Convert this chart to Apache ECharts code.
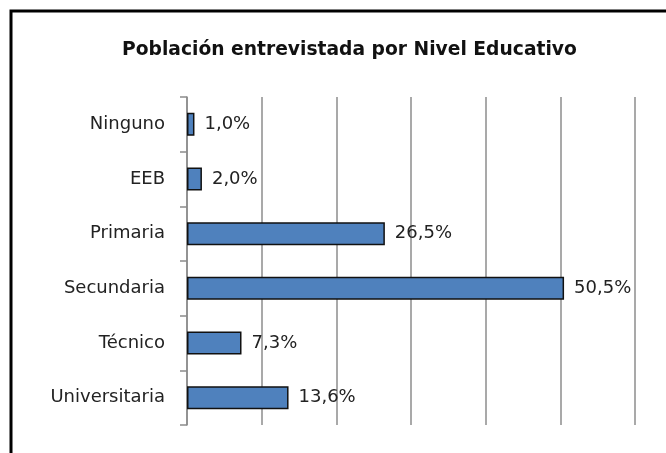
<!DOCTYPE html>
<html>
<head>
<meta charset="utf-8">
<script src="https://cdn.jsdelivr.net/npm/echarts@6/dist/echarts.min.js"></script>
<style>
  html, body { margin: 0; padding: 0; background: #fff; }
  #chart { width: 666px; height: 453px; }
</style>
</head>
<body>
<div id="chart"></div>
<script>
const titleText = 'Población entrevistada por Nivel Educativo';
const categories = ['Ninguno', 'EEB', 'Primaria', 'Secundaria', 'Técnico', 'Universitaria'];
const values = [1.0, 2.0, 26.5, 50.5, 7.3, 13.6];

const font = 'DejaVu Sans';
const chart = echarts.init(document.getElementById('chart'));

const option = {
  backgroundColor: '#fff',
  animation: false,
  title: {
    text: titleText,
    left: 117,
    top: 36,
    textStyle: { fontFamily: font, fontSize: 18.7, fontWeight: 'bold', color: '#111' }
  },
  // frame: only the top and left edges fall inside the picture
  graphic: [
    {
      type: 'polyline',
      shape: { points: [[11, 470], [11, 11], [690, 11]] },
      style: { fill: 'none', stroke: '#000', lineWidth: 3 },
      silent: true
    }
  ],
  grid: { left: 187, right: 31, top: 97, bottom: 28 },
  xAxis: {
    type: 'value',
    min: 0,
    max: 60,
    interval: 10,
    axisLabel: { show: false },
    axisLine: { show: false },
    axisTick: { show: false },
    splitLine: { lineStyle: { color: '#8c8c8c', width: 1.5 } }
  },
  yAxis: {
    type: 'category',
    data: categories,
    inverse: true,
    axisLine: { show: true, lineStyle: { color: '#8c8c8c', width: 1.5 } },
    axisTick: { show: true, length: 7, lineStyle: { color: '#8c8c8c', width: 1.5 } },
    axisLabel: { fontFamily: font, fontSize: 18, color: '#222', margin: 22 }
  },
  series: [
    {
      type: 'bar',
      data: values,
      barWidth: 23,
      itemStyle: { color: '#4f81bd', borderColor: '#111', borderWidth: 1.5 },
      label: {
        show: true,
        position: 'right',
        distance: 10,
        fontFamily: font,
        fontSize: 18,
        color: '#222',
        formatter: p => p.value.toFixed(1).replace('.', ',') + '%'
      }
    }
  ]
};

chart.setOption(option);
</script>
</body>
</html>
